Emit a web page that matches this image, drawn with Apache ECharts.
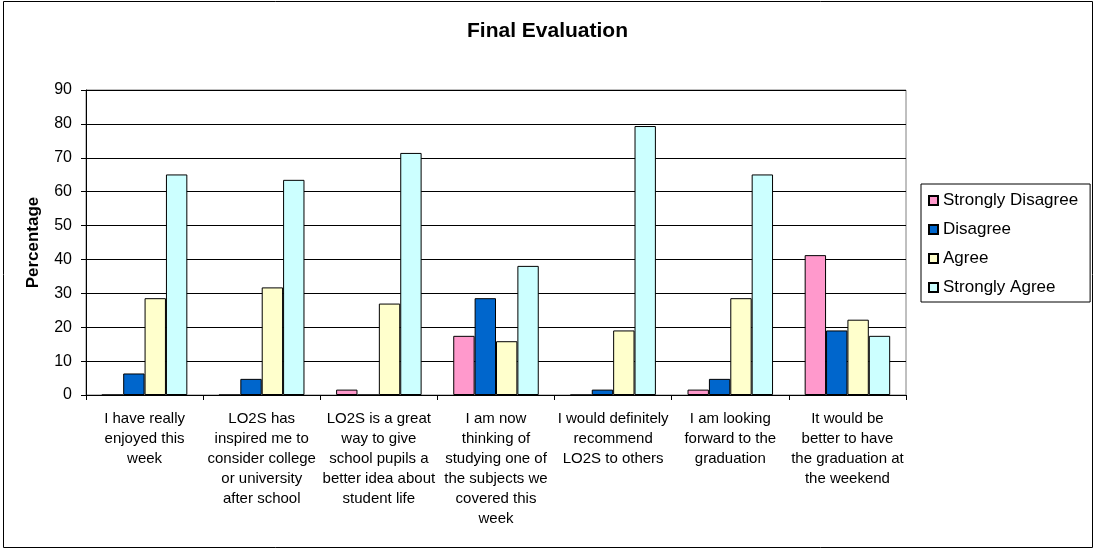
<!DOCTYPE html>
<html>
<head>
<meta charset="utf-8">
<script src="https://cdn.jsdelivr.net/npm/echarts@6/dist/echarts.min.js"></script>
<style>
html,body{margin:0;padding:0;background:#fff;}
#chart{width:1095px;height:549px;}
</style>
</head>
<body>
<div id="chart"></div>
<script>
const categories = [
  "I have really\nenjoyed this\nweek",
  "LO2S has\ninspired me to\nconsider college\nor university\nafter school",
  "LO2S is a great\nway to give\nschool pupils a\nbetter idea about\nstudent life",
  "I am now\nthinking of\nstudying one of\nthe subjects we\ncovered this\nweek",
  "I would definitely\nrecommend\nLO2S to others",
  "I am looking\nforward to the\ngraduation",
  "It would be\nbetter to have\nthe graduation at\nthe weekend"
];
const seriesNames = ["Strongly Disagree", "Disagree", "Agree", "Strongly Agree"];
const stronglyDisagree = [0, 0, 1.59, 17.46, 0, 1.59, 41.27];
const disagree = [6.35, 4.76, 0, 28.57, 1.59, 4.76, 19.05];
const agree = [28.57, 31.75, 26.98, 15.87, 19.05, 28.57, 22.22];
const stronglyAgree = [65.08, 63.49, 71.43, 38.10, 79.37, 65.08, 17.46];
const yTicks = { min: 0, max: 90, interval: 10 };

const colors = ["#FF99CC", "#0066CC", "#FFFFCC", "#CCFFFF"];
const allData = [stronglyDisagree, disagree, agree, stronglyAgree];
const FONT = "'Liberation Sans', Arial, sans-serif";

const chart = echarts.init(document.getElementById('chart'), null, { renderer: 'canvas' });
chart.setOption({
  animation: false,
  backgroundColor: '#fff',
  textStyle: { fontFamily: FONT },
  title: {
    text: 'Final Evaluation',
    left: 'center',
    top: 21,
    padding: 0,
    textStyle: { fontFamily: FONT, fontSize: 21, fontWeight: 'bold', color: '#000' }
  },
  legend: {
    orient: 'vertical',
    left: 921,
    top: 184,
    padding: [8, 12, 6, 7],
    itemGap: 12,
    itemWidth: 9,
    itemHeight: 9,
    icon: 'rect',
    borderColor: '#000',
    borderWidth: 1,
    textStyle: { fontFamily: FONT, fontSize: 17, color: '#000', lineHeight: 16 },
    data: seriesNames
  },
  grid: {
    left: 86, right: 189, top: 90, bottom: 154,
    show: true, borderColor: '#808080', borderWidth: 1
  },
  xAxis: {
    type: 'category',
    data: categories,
    axisLine: { lineStyle: { color: '#000', width: 1 } },
    axisTick: { show: true, length: 5, lineStyle: { color: '#000' } },
    axisLabel: {
      interval: 0, fontFamily: FONT, fontSize: 15, lineHeight: 20,
      color: '#000', margin: 14, align: 'center'
    }
  },
  yAxis: {
    type: 'value',
    min: yTicks.min, max: yTicks.max, interval: yTicks.interval,
    name: 'Percentage',
    nameLocation: 'middle',
    nameRotate: 90,
    nameGap: 44,
    nameTextStyle: { fontFamily: FONT, fontSize: 17, fontWeight: 'bold', color: '#000' },
    axisLine: { show: true, lineStyle: { color: '#000', width: 1 } },
    axisTick: { show: true, length: 5, lineStyle: { color: '#000' } },
    axisLabel: { fontFamily: FONT, fontSize: 16, color: '#000', margin: 14 },
    splitLine: { show: true, lineStyle: { color: '#000', width: 1 } }
  },
  graphic: [{
    type: 'rect',
    shape: { x: 3.5, y: 1.5, width: 1089, height: 546 },
    style: { fill: 'none', stroke: '#000', lineWidth: 1 },
    silent: true
  }],
  series: seriesNames.map((name, i) => ({
    name: name,
    type: 'bar',
    data: allData[i],
    barGap: '0%',
    barCategoryGap: '27%',
    itemStyle: { color: colors[i], borderColor: '#000', borderWidth: 1 }
  }))
});
</script>
</body>
</html>
